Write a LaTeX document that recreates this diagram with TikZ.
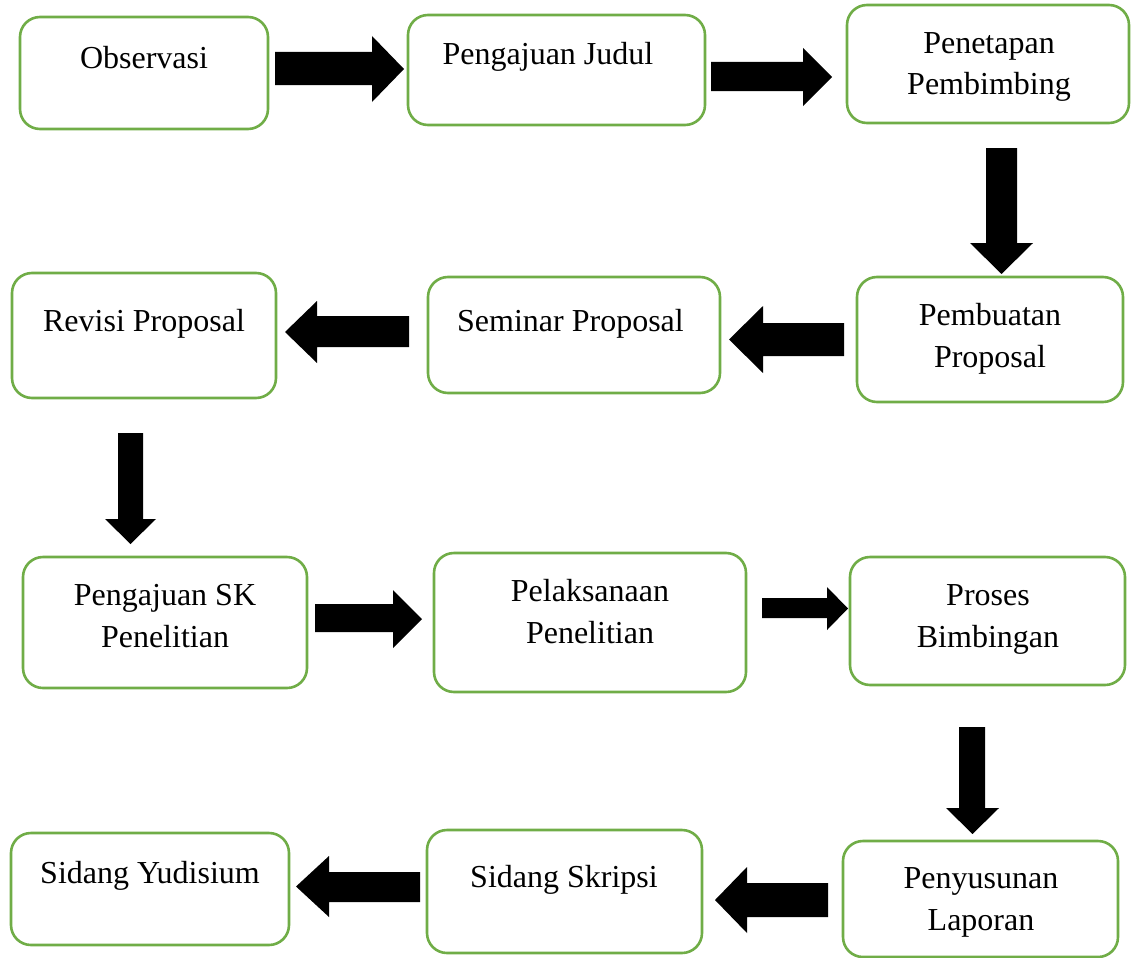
\documentclass[tikz,border=0pt]{standalone}
\usepackage{fontspec}
\setmainfont{Liberation Serif}
\definecolor{boxgreen}{HTML}{70AD47}
\tikzset{
  stepbox/.style={draw=boxgreen, line width=2.6pt, rounded corners=20pt, fill=white, inner sep=0pt},
  lbl/.style={anchor=base, align=center, inner sep=0pt, font=\fontsize{32pt}{42pt}\selectfont},
  blockarrow/.style={fill=black, draw=none}
}
\newcommand\hRarrow[7]{% tail, base, tip, shaft top, shaft bottom, head top, head bottom
  \fill[blockarrow] (#1,#4) -- (#2,#4) -- (#2,#6) -- (#3,{(#6+#7)/2}) -- (#2,#7) -- (#2,#5) -- (#1,#5) -- cycle;}
\newcommand\vDarrow[7]{% top, base, tip, shaft left, shaft right, head left, head right
  \fill[blockarrow] (#4,#1) -- (#4,#2) -- (#6,#2) -- ({(#6+#7)/2},#3) -- (#7,#2) -- (#5,#2) -- (#5,#1) -- cycle;}
\begin{document}
\begin{tikzpicture}[x=1pt,y=-1pt]
\useasboundingbox (0,0) rectangle (1132,958);
% boxes
\node[stepbox, minimum width=248pt, minimum height=112pt] (b1) at (144,73) {};
\node[stepbox, minimum width=297pt, minimum height=110pt] (b2) at (556.5,70) {};
\node[stepbox, minimum width=282pt, minimum height=118pt] (b3) at (988,64) {};
\node[stepbox, minimum width=266pt, minimum height=125pt] (b4) at (990,339.5) {};
\node[stepbox, minimum width=292pt, minimum height=116pt] (b5) at (574,335) {};
\node[stepbox, minimum width=264pt, minimum height=125pt] (b6) at (144,335.5) {};
\node[stepbox, minimum width=284pt, minimum height=131pt] (b7) at (165,622.5) {};
\node[stepbox, minimum width=312pt, minimum height=139pt] (b8) at (590,622.5) {};
\node[stepbox, minimum width=275pt, minimum height=128pt] (b9) at (987.5,621) {};
\node[stepbox, minimum width=275pt, minimum height=116pt] (b10) at (980.5,899) {};
\node[stepbox, minimum width=275pt, minimum height=123pt] (b11) at (564.5,891.5) {};
\node[stepbox, minimum width=278pt, minimum height=112pt] (b12) at (150,889) {};
% texts (base anchor = baseline of the last line)
\node[lbl] (t1) at (144,68) {Observasi};
\node[lbl] (t2) at (548,65) {Pengajuan Judul};
\node[lbl, font=\fontsize{32pt}{41pt}\selectfont] (t3) at (989,94) {Penetapan\\Pembimbing};
\node[lbl] (t4) at (990,367) {Pembuatan\\Proposal};
\node[lbl] (t5) at (570.5,331) {Seminar Proposal};
\node[lbl] (t6) at (144,331) {Revisi Proposal};
\node[lbl] (t7) at (165,647) {Pengajuan SK\\Penelitian};
\node[lbl] (t8) at (590,643) {Pelaksanaan\\Penelitian};
\node[lbl] (t9) at (988,647) {Proses\\Bimbingan};
\node[lbl] (t10) at (981,930) {Penyusunan\\Laporan};
\node[lbl] (t11) at (564,887) {Sidang Skripsi};
\node[lbl] (t12) at (150,883) {Sidang Yudisium};
% block arrows
\hRarrow{275}{372}{404}{52}{85}{36}{102}
\hRarrow{711}{803}{832}{62}{91}{48}{106}
\vDarrow{148}{243}{274}{986}{1017}{970}{1033}
\hRarrow{844}{763}{729}{323}{356}{306}{373}
\hRarrow{409}{317}{285}{316}{347}{301}{363}
\vDarrow{433}{519}{544}{118}{143}{105}{156}
\hRarrow{315}{393}{422}{604}{632}{590}{648}
\hRarrow{762}{827}{848}{598}{618}{587}{630}
\vDarrow{727}{808}{834}{959}{985}{946}{999}
\hRarrow{828}{747}{715}{883}{917}{867}{933}
\hRarrow{420}{329}{296}{872}{902}{856}{917}
\end{tikzpicture}
\end{document}
